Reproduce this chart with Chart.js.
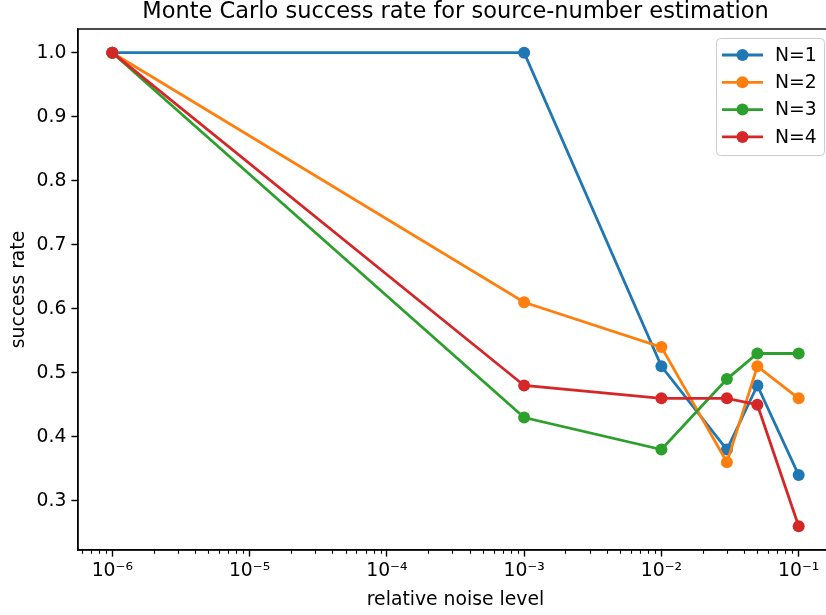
<!DOCTYPE html>
<html>
<head>
<meta charset="utf-8">
<script src="https://cdn.jsdelivr.net/npm/chart.js@4/dist/chart.umd.min.js"></script>
<style>
  html, body { margin: 0; padding: 0; background: #fff; overflow: hidden; }
  canvas { display: block; }
</style>
</head>
<body>
<canvas id="c" width="840" height="615" style="width:840px;height:615px"></canvas>
<script>
// Noise levels tested and the success rate measured for each source count
const noiseLevels = [1e-6, 1e-3, 1e-2, 3e-2, 5e-2, 1e-1];
const seriesNames = ['N=1', 'N=2', 'N=3', 'N=4'];
const rateN1 = [1.00, 1.00, 0.51, 0.38, 0.48, 0.34];
const rateN2 = [1.00, 0.61, 0.54, 0.36, 0.51, 0.46];
const rateN3 = [1.00, 0.43, 0.38, 0.49, 0.53, 0.53];
const rateN4 = [1.00, 0.48, 0.46, 0.46, 0.45, 0.26];
const seriesColors = ['#1f77b4', '#ff7f0e', '#2ca02c', '#d62728'];

// Axis ticks
const xTickValues = [1e-6, 1e-5, 1e-4, 1e-3, 1e-2, 1e-1];
const xTickLabels = ['10\u207B\u2076', '10\u207B\u2075', '10\u207B\u2074', '10\u207B\u00B3', '10\u207B\u00B2', '10\u207B\u00B9'];
const yTickValues = [0.3, 0.4, 0.5, 0.6, 0.7, 0.8, 0.9, 1.0];

const titleText = 'Monte Carlo success rate for source-number estimation';
const FONT = '"DejaVu Sans", "Liberation Sans", sans-serif';
const LABEL_SIZE = 18.8;

// 5% margins around the data range (log range on x)
const allRates = [].concat(rateN1, rateN2, rateN3, rateN4);
const lxMin = Math.log10(Math.min(...noiseLevels)), lxMax = Math.log10(Math.max(...noiseLevels));
const xPad = (lxMax - lxMin) * 0.05;
const yMinD = Math.min(...allRates), yMaxD = Math.max(...allRates);
const yPad = (yMaxD - yMinD) * 0.05;

const rateSeries = [rateN1, rateN2, rateN3, rateN4];
const datasets = rateSeries.map((rates, i) => ({
  label: seriesNames[i],
  data: noiseLevels.map((x, j) => ({ x: x, y: rates[j] })),
  borderColor: seriesColors[i],
  backgroundColor: seriesColors[i],
  pointBackgroundColor: seriesColors[i],
  pointBorderWidth: 0,
  pointRadius: 6,
  pointHoverRadius: 6,
  borderWidth: 2.8,
  tension: 0,
  order: rateSeries.length - 1 - i
}));

// Frame, minor log ticks, title and legend box
const decorations = {
  id: 'decorations',
  afterDraw(chart) {
    const ctx = chart.ctx;
    const a = chart.chartArea;
    const xs = chart.scales.x;
    ctx.save();

    // full frame (spines)
    ctx.strokeStyle = '#000';
    ctx.lineWidth = 1.4;
    ctx.strokeRect(a.left, a.top, a.right - a.left, a.bottom - a.top);

    // minor ticks of the log axis
    ctx.lineWidth = 1.1;
    ctx.beginPath();
    for (let e = Math.floor(Math.log10(xs.min)); e <= Math.ceil(Math.log10(xs.max)); e++) {
      for (let k = 2; k <= 9; k++) {
        const v = k * Math.pow(10, e);
        if (v <= xs.min || v >= xs.max) continue;
        const px = Math.round(xs.getPixelForValue(v)) + 0.5;
        ctx.moveTo(px, a.bottom);
        ctx.lineTo(px, a.bottom + 3.8);
      }
    }
    ctx.stroke();

    // title
    ctx.fillStyle = '#000';
    ctx.font = '22.5px ' + FONT;
    ctx.textAlign = 'center';
    ctx.textBaseline = 'alphabetic';
    ctx.fillText(titleText, (a.left + a.right) / 2, 18);

    // legend
    const bw = 108, bh = 117;
    const bx = a.right - 9 - bw, by = a.top + 9;
    ctx.beginPath();
    if (ctx.roundRect) ctx.roundRect(bx + 0.5, by + 0.5, bw, bh, 4);
    else ctx.rect(bx + 0.5, by + 0.5, bw, bh);
    ctx.fillStyle = 'rgba(255,255,255,0.8)';
    ctx.fill();
    ctx.strokeStyle = '#cccccc';
    ctx.lineWidth = 1;
    ctx.stroke();

    ctx.font = LABEL_SIZE + 'px ' + FONT;
    ctx.textAlign = 'left';
    ctx.textBaseline = 'middle';
    chart.data.datasets.forEach((ds, i) => {
      const cy = by + 17 + i * 27.3;
      ctx.strokeStyle = ds.borderColor;
      ctx.lineWidth = 2.8;
      ctx.beginPath();
      ctx.moveTo(bx + 6, cy);
      ctx.lineTo(bx + 47, cy);
      ctx.stroke();
      ctx.fillStyle = ds.borderColor;
      ctx.beginPath();
      ctx.arc(bx + 26.5, cy, 6, 0, Math.PI * 2);
      ctx.fill();
      ctx.fillStyle = '#000';
      ctx.fillText(ds.label, bx + 59, cy + 1);
    });
    ctx.restore();
  }
};

new Chart(document.getElementById('c'), {
  type: 'line',
  data: { datasets: datasets },
  options: {
    responsive: false,
    animation: false,
    devicePixelRatio: 1,
    layout: { padding: { left: 0, top: 29, right: 7, bottom: 0 } },
    plugins: {
      legend: { display: false },
      title: { display: false },
      tooltip: { enabled: false }
    },
    scales: {
      x: {
        type: 'logarithmic',
        position: 'bottom',
        min: Math.pow(10, lxMin - xPad),
        max: Math.pow(10, lxMax + xPad),
        afterBuildTicks: (s) => { s.ticks = xTickValues.map(v => ({ value: v, major: true })); },
        afterFit: (s) => { s.height = 65; },
        ticks: {
          autoSkip: false,
          maxRotation: 0,
          minRotation: 0,
          padding: 3,
          color: '#000',
          font: { family: FONT, size: LABEL_SIZE },
          callback: (v) => { const i = xTickValues.findIndex(t => Math.abs(t - v) / t < 1e-6); return i >= 0 ? xTickLabels[i] : ''; }
        },
        grid: { drawOnChartArea: false, drawTicks: true, tickLength: 6.6, color: '#000', tickWidth: 1.4 },
        border: { display: true, color: '#000', width: 1.4 },
        title: { display: true, text: 'relative noise level', color: '#000', font: { family: FONT, size: LABEL_SIZE }, padding: { top: 0, bottom: 4 } }
      },
      y: {
        type: 'linear',
        position: 'left',
        min: yMinD - yPad,
        max: yMaxD + yPad,
        afterBuildTicks: (s) => { s.ticks = yTickValues.map(v => ({ value: v })); },
        afterFit: (s) => { s.width = 78; },
        ticks: {
          padding: 5,
          color: '#000',
          font: { family: FONT, size: LABEL_SIZE },
          callback: (v) => Number(v).toFixed(1)
        },
        grid: { drawOnChartArea: false, drawTicks: true, tickLength: 6.6, color: '#000', tickWidth: 1.4 },
        border: { display: true, color: '#000', width: 1.4 },
        title: { display: true, text: 'success rate', color: '#000', font: { family: FONT, size: LABEL_SIZE }, padding: { top: 8, bottom: 0 } }
      }
    }
  },
  plugins: [decorations]
});
</script>
</body>
</html>
